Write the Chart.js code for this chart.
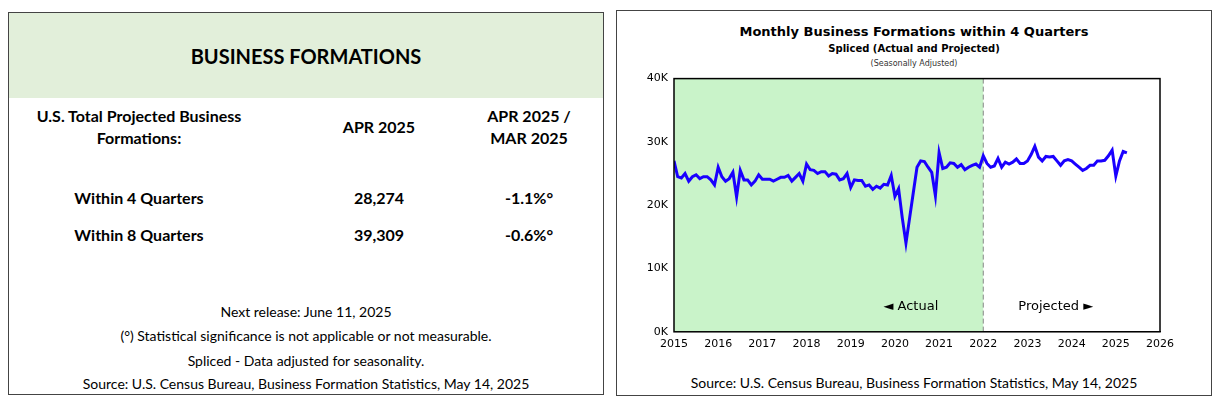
<!DOCTYPE html>
<html><head><meta charset="utf-8">
<script src="https://cdn.jsdelivr.net/npm/chart.js@4"></script>
<style>
body{margin:0;width:1218px;height:406px;background:#fff;position:relative;font-family:Lato,"Open Sans",sans-serif;color:#000}
#left{position:absolute;left:8px;top:12px;width:596px;height:383px;border:1px solid #444;box-sizing:border-box}
#hdr{position:absolute;left:0;top:0;width:100%;height:85px;background:#e2efda;text-align:center;font-weight:bold;font-size:20px;line-height:86px}
.c{position:absolute;text-align:center;font-weight:bold;font-size:16px;line-height:22px}
.f{position:absolute;left:0;width:100%;text-align:center;font-size:14px}
#right{position:absolute;left:616px;top:10px;width:596px;height:386px;border:1px solid #444;box-sizing:border-box}
#t1{position:absolute;left:0;width:100%;top:13px;text-align:center;font:bold 13px "DejaVu Sans";}
#t2{position:absolute;left:0;width:100%;top:32px;text-align:center;font:bold 10px "DejaVu Sans";}
#t3{position:absolute;left:0;width:100%;top:48px;text-align:center;font:8px "DejaVu Sans";color:#333}
#cw{position:absolute;left:620px;top:70px;width:560px;height:283px}
#src{position:absolute;left:616px;width:596px;top:374px;text-align:center;font-size:14px}
</style></head><body>
<div id="left">
<div id="hdr">BUSINESS FORMATIONS</div>
<div class="c" style="left:20px;width:220px;top:92px">U.S. Total Projected Business<br>Formations:</div>
<div class="c" style="left:300px;width:140px;top:103px">APR 2025</div>
<div class="c" style="left:450px;width:140px;top:92px">APR 2025 /<br>MAR 2025</div>
<div class="c" style="left:40px;width:180px;top:174px">Within 4 Quarters</div>
<div class="c" style="left:300px;width:140px;top:174px">28,274</div>
<div class="c" style="left:450px;width:140px;top:174px">-1.1%°</div>
<div class="c" style="left:40px;width:180px;top:211px">Within 8 Quarters</div>
<div class="c" style="left:300px;width:140px;top:211px">39,309</div>
<div class="c" style="left:450px;width:140px;top:211px">-0.6%°</div>
<div class="f" style="top:290px">Next release: June 11, 2025</div>
<div class="f" style="top:314px">(°) Statistical significance is not applicable or not measurable.</div>
<div class="f" style="top:339px">Spliced - Data adjusted for seasonality.</div>
<div class="f" style="top:362px">Source: U.S. Census Bureau, Business Formation Statistics, May 14, 2025</div>
</div>
<div id="right">
<div id="t1">Monthly Business Formations within 4 Quarters</div>
<div id="t2">Spliced (Actual and Projected)</div>
<div id="t3">(Seasonally Adjusted)</div>
</div>
<div id="cw"><canvas id="c"></canvas></div>
<div id="src">Source: U.S. Census Bureau, Business Formation Statistics, May 14, 2025</div>
<script>
const startYear = 2015;
const yTicks = [0,10000,20000,30000,40000];
const xTicks = [2015,2016,2017,2018,2019,2020,2021,2022,2023,2024,2025,2026];
const projectionStart = 2022;
const formations = [
27.0,24.5,24.3,25.0,23.8,24.5,24.8,24.2,24.5,24.5,24.0,23.2,
26.0,24.5,23.8,24.2,25.2,21.3,25.5,24.0,24.0,23.2,23.8,24.8,
24.1,24.1,24.1,23.8,24.1,24.4,24.4,24.7,23.8,24.4,25.0,23.8,
26.5,25.6,25.5,25.0,25.3,25.3,24.6,25.0,24.9,24.0,24.2,25.0,
22.8,24.0,23.9,23.9,23.0,23.2,22.5,23.0,22.7,23.3,23.2,24.7,
21.4,22.6,18.0,14.0,18.0,22.0,26.0,27.0,26.9,26.0,25.2,21.5,
28.3,25.8,26.0,26.7,26.6,26.0,26.4,25.6,26.0,26.3,26.5,26.0,
27.8,26.6,26.0,26.2,27.4,26.0,26.8,26.5,26.8,27.3,26.6,26.6,
27.0,28.0,29.3,27.6,27.0,27.7,27.6,27.7,27.0,26.3,27.0,27.2,
27.0,26.5,26.0,25.5,25.8,26.3,26.3,27.0,27.0,27.1,27.8,28.7,
24.6,27.0,28.5,28.274];
const pts = formations.map((v,i)=>({x:startYear+i/12,y:v*1000}));
const deco = {id:'deco',
 beforeDatasetsDraw(ch){const {ctx,chartArea:a,scales:{x}}=ch;const px=x.getPixelForValue(projectionStart);
  ctx.save();ctx.fillStyle='#c9f3c9';ctx.fillRect(a.left,a.top,px-a.left,a.bottom-a.top);
  ctx.strokeStyle='#888';ctx.setLineDash([5,3]);ctx.lineWidth=1;ctx.beginPath();ctx.moveTo(px,a.top);ctx.lineTo(px,a.bottom);ctx.stroke();
  ctx.setLineDash([]);ctx.fillStyle='#000';ctx.font='13px "DejaVu Sans"';ctx.textBaseline='middle';
  ctx.textAlign='right';ctx.fillText('◄ Actual',px-45,a.bottom-25);
  ctx.textAlign='left';ctx.fillText('Projected ►',px+35,a.bottom-25);ctx.restore();},
 afterDraw(ch){const {ctx,chartArea:a}=ch;ctx.save();ctx.strokeStyle='#000';ctx.lineWidth=1.5;ctx.strokeRect(a.left,a.top,a.right-a.left,a.bottom-a.top);ctx.restore();}};
new Chart(document.getElementById('c'),{type:'line',
 data:{datasets:[{data:pts,borderColor:'#1a00ff',borderWidth:3,pointRadius:0,tension:0}]},
 options:{responsive:true,maintainAspectRatio:false,animation:false,
  layout:{padding:{top:8,right:20,left:0,bottom:0}},
  plugins:{legend:{display:false},tooltip:{enabled:false}},
  scales:{
   x:{type:'linear',min:2015,max:2026,afterBuildTicks(s){s.ticks=xTicks.map(v=>({value:v}));},
      grid:{display:false,drawTicks:true,tickLength:4,tickColor:'#000'},border:{color:'#000'},
      ticks:{color:'#000',font:{family:'DejaVu Sans',size:11},maxRotation:0,padding:2,callback:v=>String(v)}},
   y:{min:0,max:40000,afterBuildTicks(s){s.ticks=yTicks.map(v=>({value:v}));},afterFit(s){s.width=54;},
      grid:{display:false,tickLength:4,tickColor:'#000'},border:{color:'#000'},
      ticks:{color:'#000',font:{family:'DejaVu Sans',size:11},padding:2,callback:v=>(v/1000)+'K'}}}},
 plugins:[deco]});
</script>
</body></html>
